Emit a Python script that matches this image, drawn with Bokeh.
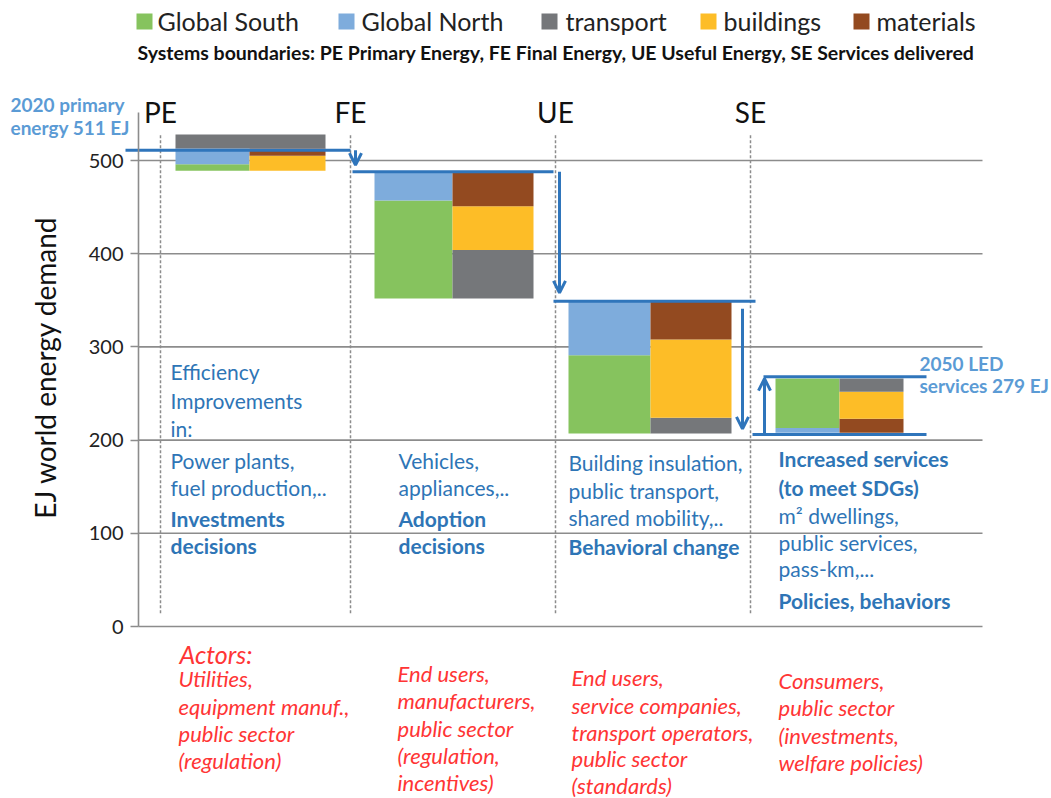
import math
from bokeh.plotting import figure
from bokeh.models import Range1d, LinearAxis, FixedTicker, Arrow, OpenHead, ColumnDataSource
from bokeh.core.properties import value
from bokeh.embed import file_html
from bokeh.resources import INLINE

# ------------------------------------------------------------------ data
stages = ["PE", "FE", "UE", "SE"]
categories = ["Global South", "Global North", "transport", "buildings", "materials"]

# EJ segment heights per stage (PE, FE, UE, SE)
global_south = [7, 105, 84, 53]
global_north = [17, 31, 58, 5]
transport = [15, 52, 17, 14]
buildings = [16, 47, 84, 29]
materials = [8, 37, 41, 15]
stack_base = [489, 352, 207, 208]

primary_2020 = 511          # 2020 primary energy line
final_level = 488           # FE level
useful_level = 349          # UE level
services_low = 206          # SE lower line
services_high = 268         # SE upper line (2050 LED services)

arrow_from = [511, 488, 341, 206]
arrow_to = [495, 358, 212, 266]

y_ticks = [0, 100, 200, 300, 400, 500]

legend_labels = categories
subtitle = "Systems boundaries: PE Primary Energy, FE Final Energy, UE Useful Energy, SE Services delivered"
y_label = "EJ world energy demand"
label_2020 = ["2020 primary", "energy 511 EJ"]
label_2050 = ["2050 LED", "services 279 EJ"]

notes_pe = ["Efficiency", "Improvements", "in:", "Power plants,", "fuel production,..", "Investments", "decisions"]
notes_pe_bold = [False, False, False, False, False, True, True]
notes_fe = ["Vehicles,", "appliances,..", "Adoption", "decisions"]
notes_fe_bold = [False, False, True, True]
notes_ue = ["Building insulation,", "public transport,", "shared mobility,..", "Behavioral change"]
notes_ue_bold = [False, False, False, True]
notes_se = ["Increased services", "(to meet SDGs)", "m\u00b2 dwellings,", "public services,", "pass-km,...", "Policies, behaviors"]
notes_se_bold = [True, True, False, False, False, True]

actors_title = "Actors:"
actors_pe = ["Utilities,", "equipment manuf.,", "public sector", "(regulation)"]
actors_fe = ["End users,", "manufacturers,", "public sector", "(regulation,", "incentives)"]
actors_ue = ["End users,", "service companies,", "transport operators,", "public sector", "(standards)"]
actors_se = ["Consumers,", "public sector", "(investments,", "welfare policies)"]

# ------------------------------------------------------------------ styles / layout
colors = {"Global South": "#86C35E", "Global North": "#7EACDC", "transport": "#75777A",
          "buildings": "#FDBD27", "materials": "#934A20"}
BLUE = "#2F75BB"
TXT_BLUE = "#2E75B6"
LIGHT_BLUE = "#5B9BD5"
RED = "#FF3535"
GRID = "#8C8C8C"
FONT = "Lato"

W, H = 1051, 798
PX_PER_EJ = 0.932
Y0_ROW = 626                 # canvas row of 0 EJ
y_top = Y0_ROW / PX_PER_EJ
y_bottom = (Y0_ROW - H) / PX_PER_EJ

stage_x = [160, 350, 555, 750]
bar_cols = [(175, 249, 325), (374, 452, 533), (568, 650, 731), (775, 839, 903)]
left_order = [["Global South", "Global North"]] * 3 + [["Global North", "Global South"]]
right_order = [["buildings", "materials"], ["transport", "buildings", "materials"],
               ["transport", "buildings", "materials"], ["materials", "buildings", "transport"]]
full_order = [["transport"], [], [], []]

series = {"Global South": global_south, "Global North": global_north, "transport": transport,
          "buildings": buildings, "materials": materials}

p = figure(width=W, height=H, x_range=Range1d(0, W), y_range=Range1d(y_bottom, y_top),
           x_axis_type=None, y_axis_type=None, toolbar_location=None, output_backend="svg",
           min_border=0, outline_line_color=None, background_fill_color="white")
p.xgrid.visible = False
p.ygrid.visible = False

# grid lines
p.segment(x0=[138] * len(y_ticks), x1=[982] * len(y_ticks), y0=y_ticks, y1=y_ticks,
          line_color=GRID, line_width=1.6)

# y axis
ax = LinearAxis(fixed_location=138, ticker=FixedTicker(ticks=y_ticks), bounds=(0, 551),
                axis_line_color=GRID, axis_line_width=1.6, major_tick_out=8, major_tick_in=0,
                minor_tick_out=0, minor_tick_in=0, major_tick_line_color=GRID,
                major_tick_line_width=1.6, major_label_text_font=FONT,
                major_label_text_font_size="20px", major_label_text_color="#222222",
                major_label_standoff=7)
p.add_layout(ax, "left")

# dashed stage boundaries
p.segment(x0=stage_x, x1=stage_x, y0=[527] * 4, y1=[12] * 4, line_color=GRID,
          line_width=1.5, line_dash="3 2")

# stacked bars
q = dict(left=[], right=[], bottom=[], top=[], color=[])
for i in range(len(stages)):
    l, m, r = bar_cols[i]
    yb = stack_base[i]
    for c in left_order[i]:
        q["left"].append(l); q["right"].append(m); q["bottom"].append(yb)
        yb += series[c][i]; q["top"].append(yb); q["color"].append(colors[c])
    yl = yb
    yb = stack_base[i]
    for c in right_order[i]:
        q["left"].append(m); q["right"].append(r); q["bottom"].append(yb)
        yb += series[c][i]; q["top"].append(yb); q["color"].append(colors[c])
    yb = max(yb, yl)
    for c in full_order[i]:
        q["left"].append(l); q["right"].append(r); q["bottom"].append(yb)
        yb += series[c][i]; q["top"].append(yb); q["color"].append(colors[c])
p.quad(source=ColumnDataSource(q), left="left", right="right", bottom="bottom", top="top",
       fill_color="color", line_color=None)

# level lines
levels = [primary_2020, final_level, useful_level, services_high, services_low]
lx0 = [125, 352, 553, 763, 752]
lx1 = [350, 553, 755, 926, 926]
p.segment(x0=lx0, x1=lx1, y0=levels, y1=levels, line_color=BLUE, line_width=3)

# arrows
arr = ColumnDataSource(dict(x=[355, 559, 742, 764], y0=arrow_from, y1=arrow_to))
p.add_layout(Arrow(end=OpenHead(size=12, line_color=BLUE, line_width=3), source=arr,
                   x_start="x", y_start="y0", x_end="x", y_end="y1",
                   line_color=BLUE, line_width=3))


def ej(row):
    return (Y0_ROW - row) / PX_PER_EJ


def txt(x, ys, texts, size, color, style="normal", align="left", font=FONT, angle=0):
    p.text(x=x if isinstance(x, list) else [x] * len(texts), y=[ej(v) for v in ys], text=texts,
           text_font=value(font), text_font_size=value(size), text_color=color,
           text_font_style=style, text_align=align, text_baseline="middle", angle=angle)


def notes(x, ys, texts, bold, size="21px"):
    n = [(yy, t) for yy, t, b in zip(ys, texts, bold) if not b]
    b_ = [(yy, t) for yy, t, b in zip(ys, texts, bold) if b]
    if n:
        txt(x, [a for a, _ in n], [t for _, t in n], size, TXT_BLUE)
    if b_:
        txt(x, [a for a, _ in b_], [t for _, t in b_], size, TXT_BLUE, style="bold")


# legend
leg_sq_x = [144, 346, 549, 708, 861]
leg_tx_x = [157, 361, 565, 723, 876]
p.scatter(x=leg_sq_x, y=[ej(21)] * 5, marker="square", size=16,
          fill_color=[colors[c] for c in categories], line_color=None)
txt(leg_tx_x, [20] * 5, legend_labels, "25px", "#222222")
txt(137, [52], [subtitle], "19.5px", "#111111", style="bold")

# stage labels
txt(stage_x, [111] * 4, stages, "28px", "#111111", align="center")

# y label
p.text(x=[44], y=[ej(367)], text=[y_label], text_font=value(FONT), text_font_size=value("28px"),
       text_color="#111111", text_align="center", text_baseline="middle", angle=math.pi / 2)

# top annotations
txt(10, [104, 127], label_2020, "19px", LIGHT_BLUE, style="bold")
txt(919, [363, 385], label_2050, "19px", LIGHT_BLUE, style="bold")

# column notes
notes(170, [371, 400, 428, 460, 487, 518, 545], notes_pe, notes_pe_bold)
notes(398, [460, 487, 518, 545], notes_fe, notes_fe_bold)
notes(568, [462, 490, 517, 546], notes_ue, notes_ue_bold)
notes(778, [458, 487, 515, 542, 568, 600], notes_se, notes_se_bold)

# actors
txt(179, [653], [actors_title], "25px", RED, style="italic")
txt(178, [678, 706, 733, 760], actors_pe, "22px", RED, style="italic")
txt(397, [673, 700, 728, 755, 782], actors_fe, "22px", RED, style="italic")
txt(571, [677, 705, 732, 758, 785], actors_ue, "22px", RED, style="italic")
txt(778, [680, 707, 735, 762], actors_se, "22px", RED, style="italic")

open("out.html", "w").write(file_html(p, INLINE))
